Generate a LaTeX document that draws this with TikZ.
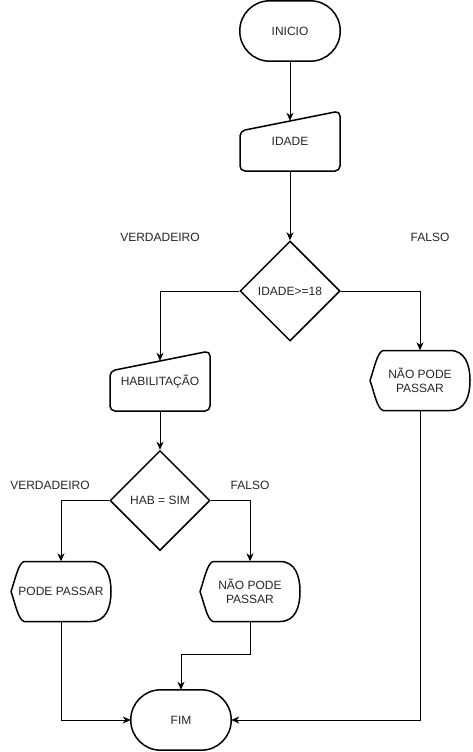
\documentclass[tikz,border=0pt]{standalone}
\usepackage{fontspec}
\setmainfont{Liberation Sans}
\usetikzlibrary{shapes.geometric,arrows.meta,calc}
\begin{document}
\begin{tikzpicture}[x=1pt,y=1pt,
  every node/.style={font=\fontsize{12}{14}\selectfont, text=black!85},
  box/.style={minimum width=100pt, minimum height=60pt, inner sep=0pt, draw=none, align=center},
  dia/.style={diamond, draw, line width=1.5pt, minimum width=100pt, minimum height=100pt, inner sep=0pt},
  shapeline/.style={line width=1.5pt, line join=round},
  conn/.style={line width=1pt, -{Stealth[length=8pt,width=7pt,inset=2.5pt]}},
  lbl/.style={inner sep=0pt}
]
\useasboundingbox (0,0) rectangle (472,-752);

% nodes
\node[box] (ini) at (290,-31) {INICIO};
\node[box] (idade) at (290,-141) {IDADE};
\node[dia] (d1) at (290,-291) {IDADE>=18};
\node[box] (hab) at (160,-381) {HABILITAÇÃO};
\node[box] (nao1) at (420,-380.5) {NÃO PODE\\PASSAR};
\node[dia] (d2) at (160,-500.5) {HAB = SIM};
\node[box] (pode) at (61,-591.5) {PODE PASSAR};
\node[box] (nao2) at (250,-591.5) {NÃO PODE\\PASSAR};
\node[box] (fim) at (181,-720) {FIM};

% labels
\node[lbl] (v1) at (160,-237) {VERDADEIRO};
\node[lbl] (f1) at (430,-237) {FALSO};
\node[lbl] (v2) at (50,-485) {VERDADEIRO};
\node[lbl] (f2) at (250,-485) {FALSO};

% terminator outlines
\draw[shapeline, rounded corners=29.9pt] (ini.south west) rectangle (ini.north east);
\draw[shapeline, rounded corners=29.9pt] (fim.south west) rectangle (fim.north east);

% manual input outlines
\draw[shapeline, rounded corners=5pt, shift={(idade.center)}]
  (-50,-30) -- (-50,10) -- (50,30) -- (50,-30) -- cycle;
\draw[shapeline, rounded corners=5pt, shift={(hab.center)}]
  (-50,-30) -- (-50,10) -- (50,30) -- (50,-30) -- cycle;

% display outlines
\foreach \n in {nao1,nao2,pode}{
  \draw[shapeline, shift={(\n.center)}]
    (-50,0) .. controls (-46,11) and (-43,28) .. (-37,30) -- (30,30)
    .. controls (45,30) and (50,16) .. (50,0)
    .. controls (50,-16) and (45,-30) .. (30,-30) -- (-37,-30)
    .. controls (-43,-28) and (-46,-11) .. cycle;
}

% connectors
\draw[conn, shorten >=-10pt] (ini.south) -- (idade.north);
\draw[conn] (idade.south) -- (d1.north);
\draw[conn, shorten >=-10pt] (d1.west) -| (hab.north);
\draw[conn] (d1.east) -| (nao1.north);
\draw[conn] (hab.south) -- (d2.north);
\draw[conn] (d2.west) -| (pode.north);
\draw[conn] (d2.east) -| (nao2.north);
\draw[conn] (pode.south) |- (fim.west);
\draw[conn] (nao2.south) -- ++(0,-33) -| (fim.north);
\draw[conn] (nao1.south) |- (fim.east);
\end{tikzpicture}
\end{document}
